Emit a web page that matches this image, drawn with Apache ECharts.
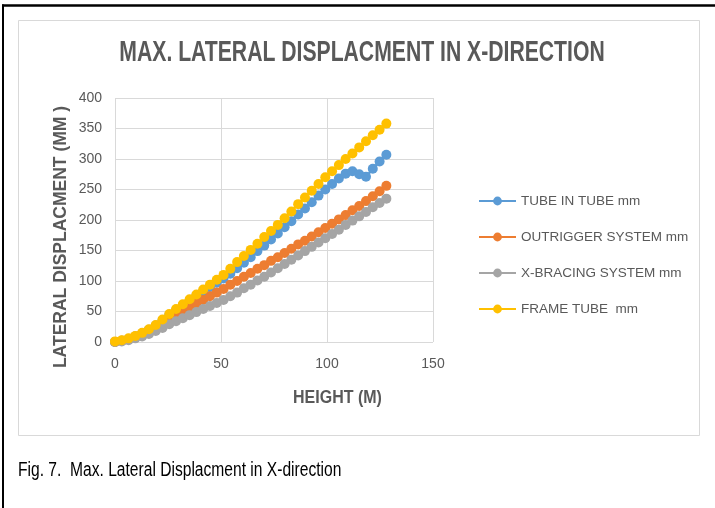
<!DOCTYPE html>
<html>
<head>
<meta charset="utf-8">
<script src="https://cdn.jsdelivr.net/npm/echarts@6/dist/echarts.min.js"></script>
<style>
  html, body { margin: 0; padding: 0; background: #fff; }
  #chart { width: 715px; height: 508px; }
</style>
</head>
<body>
<div id="chart"></div>
<script>
// Height (m) of each storey level
const heights = [0, 3.2, 6.4, 9.6, 12.8, 16, 19.2, 22.4, 25.6, 28.8, 32, 35.2, 38.4, 41.6, 44.8, 48, 51.2, 54.4, 57.6, 60.8, 64, 67.2, 70.4, 73.6, 76.8, 80, 83.2, 86.4, 89.6, 92.8, 96, 99.2, 102.4, 105.6, 108.8, 112, 115.2, 118.4, 121.6, 124.8, 128];

// Lateral displacement (mm)
const tubeInTube = [0, 2, 5, 9, 14, 20, 27, 35, 44, 52, 60, 68, 76, 83, 90, 97, 104, 112, 121, 130, 139, 149, 158, 168, 178, 188, 198, 209, 219, 229, 240, 250, 259, 268, 276, 280, 275, 271, 284, 296, 307];
const outrigger = [0, 2, 5, 9, 14, 19, 25, 32, 39, 45, 51, 57, 63, 69, 75, 81, 87, 94, 100, 107, 113, 120, 126, 133, 139, 146, 153, 160, 166, 173, 180, 187, 194, 201, 208, 216, 223, 231, 239, 247, 256];
const xBracing = [0, 1, 3, 6, 9, 13, 18, 23, 29, 34, 39, 44, 49, 54, 59, 64, 69, 75, 81, 88, 94, 101, 107, 114, 121, 128, 135, 142, 149, 156, 163, 170, 177, 184, 192, 199, 206, 213, 221, 228, 235];
const frameTube = [1, 3, 6, 10, 15, 21, 28, 37, 46, 54, 62, 70, 78, 86, 94, 102, 110, 120, 131, 141, 151, 161, 172, 182, 192, 203, 214, 226, 237, 248, 259, 270, 280, 290, 300, 309, 319, 329, 339, 348, 358];

const seriesNames = ['TUBE IN TUBE mm', 'OUTRIGGER SYSTEM mm', 'X-BRACING SYSTEM mm', 'FRAME TUBE  mm'];
const seriesValues = [tubeInTube, outrigger, xBracing, frameTube];
const seriesColors = ['#5B9BD5', '#ED7D31', '#A5A5A5', '#FFC000'];

// Axis ticks
const xTicks = { min: 0, max: 150, interval: 50 };
const yTicks = { min: 0, max: 400, interval: 50 };

// Texts
const titleText = 'MAX. LATERAL DISPLACMENT IN X-DIRECTION';
const xAxisName = 'HEIGHT (M)';
const yAxisName = 'LATERAL DISPLACMENT (MM )';
const captionText = 'Fig. 7.  Max. Lateral Displacment in X-direction';

const FONT = '"Liberation Sans", Arial, sans-serif';
const TXT = '#595959';
const GRID = '#D9D9D9';

const chart = echarts.init(document.getElementById('chart'), null, { renderer: 'canvas' });

const series = seriesNames.map((name, i) => ({
  name: name,
  type: 'line',
  data: heights.map((h, k) => [h, seriesValues[i][k]]),
  symbol: 'circle',
  symbolSize: 10,
  showSymbol: true,
  color: seriesColors[i],
  lineStyle: { width: 2.5, color: seriesColors[i] },
  itemStyle: { color: seriesColors[i] },
  emphasis: { disabled: true },
  z: 2 + i
}));

const option = {
  backgroundColor: '#ffffff',
  animation: false,
  grid: { left: 115, right: 282, top: 98, bottom: 166, containLabel: false },
  xAxis: {
    type: 'value',
    min: xTicks.min, max: xTicks.max, interval: xTicks.interval,
    axisLine: { show: false },
    axisTick: { show: false },
    splitLine: { show: true, lineStyle: { color: GRID, width: 1 } },
    axisLabel: { color: TXT, fontSize: 14, fontFamily: FONT, margin: 15 }
  },
  yAxis: {
    type: 'value',
    min: yTicks.min, max: yTicks.max, interval: yTicks.interval,
    axisLine: { show: false },
    axisTick: { show: false },
    splitLine: { show: true, lineStyle: { color: GRID, width: 1 } },
    axisLabel: { color: TXT, fontSize: 14, fontFamily: FONT, margin: 13 }
  },
  legend: {
    orient: 'vertical',
    left: 473,
    top: 189,
    itemWidth: 37,
    itemHeight: 11,
    itemGap: 22,
    textStyle: { color: TXT, fontSize: 13.5, fontFamily: FONT },
    data: seriesNames
  },
  graphic: [
    // outer black frame (top and left edges)
    { type: 'line', shape: { x1: 2, y1: 5.5, x2: 715, y2: 5.5 }, style: { stroke: '#000', lineWidth: 2.5 } },
    { type: 'line', shape: { x1: 3, y1: 4.5, x2: 3, y2: 508 }, style: { stroke: '#000', lineWidth: 2 } },
    // chart area border
    { type: 'rect', shape: { x: 18.5, y: 20.5, width: 681, height: 415 }, style: { fill: 'none', stroke: GRID, lineWidth: 1 } },
    // title
    {
      type: 'text', x: 362, y: 53, scaleX: 0.73,
      style: { text: titleText, fill: TXT, font: 'bold 29px ' + FONT, align: 'center', verticalAlign: 'middle' }
    },
    // y axis name
    {
      type: 'text', x: 61, y: 237, rotation: Math.PI / 2,
      style: { text: yAxisName, fill: TXT, font: 'bold 17.5px ' + FONT, align: 'center', verticalAlign: 'middle' }
    },
    // x axis name
    {
      type: 'text', x: 337.5, y: 398.5, scaleY: 1.1,
      style: { text: xAxisName, fill: TXT, font: 'bold 16px ' + FONT, align: 'center', verticalAlign: 'middle' }
    },
    // caption
    {
      type: 'text', x: 18, y: 470, scaleX: 0.78,
      style: { text: captionText, fill: '#000', font: '20px ' + FONT, align: 'left', verticalAlign: 'middle' }
    }
  ],
  series: series
};

chart.setOption(option);
</script>
</body>
</html>
